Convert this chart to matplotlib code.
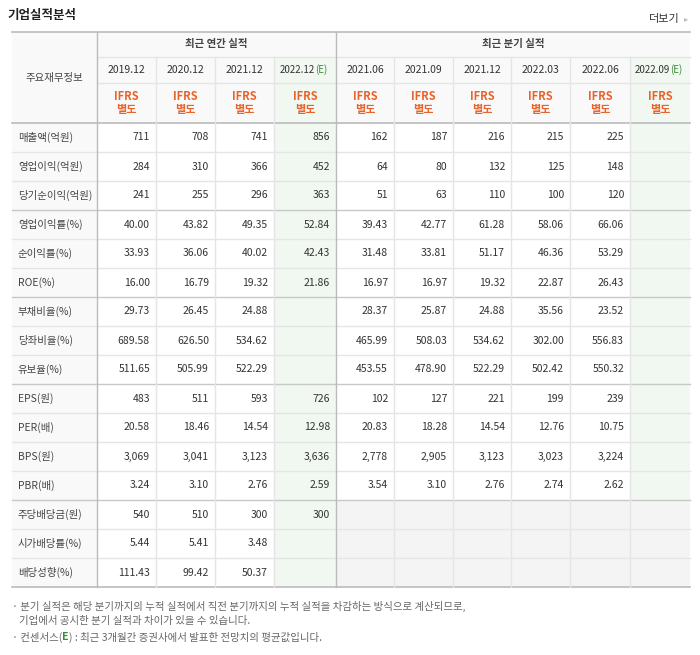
import matplotlib
matplotlib.use("Agg")
import matplotlib.pyplot as plt
from matplotlib.patches import Rectangle
from matplotlib import font_manager

names = {f.name for f in font_manager.fontManager.ttflist}
fam = [n for n in ["Noto Sans CJK KR", "Noto Sans CJK JP", "Noto Sans CJK SC", "Noto Sans CJK TC"] if n in names]
plt.rcParams["font.family"] = fam + ["DejaVu Sans"]

periods = ["2019.12", "2020.12", "2021.12", "2022.12", "2021.06", "2021.09", "2021.12", "2022.03", "2022.06", "2022.09"]
estimate = [False, False, False, True, False, False, False, False, False, True]
row_labels = ["매출액(억원)", "영업이익(억원)", "당기순이익(억원)", "영업이익률(%)", "순이익률(%)", "ROE(%)",
              "부채비율(%)", "당좌비율(%)", "유보율(%)", "EPS(원)", "PER(배)", "BPS(원)", "PBR(배)",
              "주당배당금(원)", "시가배당률(%)", "배당성향(%)"]
values = [
    ["711", "708", "741", "856", "162", "187", "216", "215", "225", ""],
    ["284", "310", "366", "452", "64", "80", "132", "125", "148", ""],
    ["241", "255", "296", "363", "51", "63", "110", "100", "120", ""],
    ["40.00", "43.82", "49.35", "52.84", "39.43", "42.77", "61.28", "58.06", "66.06", ""],
    ["33.93", "36.06", "40.02", "42.43", "31.48", "33.81", "51.17", "46.36", "53.29", ""],
    ["16.00", "16.79", "19.32", "21.86", "16.97", "16.97", "19.32", "22.87", "26.43", ""],
    ["29.73", "26.45", "24.88", "", "28.37", "25.87", "24.88", "35.56", "23.52", ""],
    ["689.58", "626.50", "534.62", "", "465.99", "508.03", "534.62", "302.00", "556.83", ""],
    ["511.65", "505.99", "522.29", "", "453.55", "478.90", "522.29", "502.42", "550.32", ""],
    ["483", "511", "593", "726", "102", "127", "221", "199", "239", ""],
    ["20.58", "18.46", "14.54", "12.98", "20.83", "18.28", "14.54", "12.76", "10.75", ""],
    ["3,069", "3,041", "3,123", "3,636", "2,778", "2,905", "3,123", "3,023", "3,224", ""],
    ["3.24", "3.10", "2.76", "2.59", "3.54", "3.10", "2.76", "2.74", "2.62", ""],
    ["540", "510", "300", "300", "", "", "", "", "", ""],
    ["5.44", "5.41", "3.48", "", "", "", "", "", "", ""],
    ["111.43", "99.42", "50.37", "", "", "", "", "", "", ""],
]
gray_rows = [13, 14, 15]

fig = plt.figure(figsize=(7, 6.55), dpi=100)
ax = fig.add_axes([0, 0, 1, 1])
ax.set_xlim(0, 700); ax.set_ylim(655, 0); ax.axis("off")

xs = [12, 97, 156, 215, 274, 336, 394, 453, 511, 570, 630, 690]
top, h1, h2, h3 = 32, 57, 83, 123
rh = 29
nrows = len(row_labels)
bottom = h3 + rh * nrows
GREEN = "#f1f7f1"; HEAD = "#f9f9f9"; LINE = "#e5e5e5"; DARK = "#c8c8c8"

ax.add_patch(Rectangle((xs[0], top), xs[-1] - xs[0], h3 - top, color=HEAD, lw=0))
ax.add_patch(Rectangle((xs[0], h3), xs[1] - xs[0], bottom - h3, color=HEAD, lw=0))
for j, e in enumerate(estimate):
    if e:
        ax.add_patch(Rectangle((xs[j + 1], h1), xs[j + 2] - xs[j + 1], bottom - h1, color=GREEN, lw=0))
for r in gray_rows:
    y0 = h3 + r * rh
    ax.add_patch(Rectangle((xs[5], y0), xs[-1] - xs[5], rh, color="#f4f4f4", lw=0))

for y in [h1, h2]:
    ax.plot([xs[1], xs[-1]], [y, y], color=LINE, lw=1)
for r in range(1, nrows):
    y = h3 + r * rh
    dark = r in (3, 6, 9, 13)
    ax.plot([xs[0], xs[-1]], [y, y], color=DARK if dark else LINE, lw=1)
for y in (top, h3, bottom):
    ax.plot([xs[0], xs[-1]], [y, y], color="#bbbbbb", lw=1.2)
for x in xs[1:-1]:
    if x in (97, 336):
        ax.plot([x, x], [top, bottom], color="#bbbbbb", lw=1)
    else:
        ax.plot([x, x], [h1, bottom], color=LINE, lw=1)

ax.text(8, 16, "기업실적분석", fontsize=9, fontweight="bold", color="#222", va="center")
ax.text(680, 19, "더보기", fontsize=8, color="#333", va="center", ha="right")
ax.text(686, 19, "▸", fontsize=6, color="#bbb", va="center", ha="center")
ax.text((xs[0] + xs[1]) / 2, (top + h3) / 2, "주요재무정보", fontsize=7.5, color="#444", ha="center", va="center")
ax.text((xs[1] + xs[5]) / 2, (top + h1) / 2, "최근 연간 실적", fontsize=7.5, fontweight="bold", color="#444", ha="center", va="center")
ax.text((xs[5] + xs[-1]) / 2, (top + h1) / 2, "최근 분기 실적", fontsize=7.5, fontweight="bold", color="#444", ha="center", va="center")
for j, p in enumerate(periods):
    cx = (xs[j + 1] + xs[j + 2]) / 2
    if estimate[j]:
        ax.text(cx + 10, (h1 + h2) / 2, "(E)", fontsize=7, color="#3a8a3a", ha="left", va="center")
        ax.text(cx + 10, (h1 + h2) / 2, p, fontsize=7, color="#333", ha="right", va="center")
    else:
        ax.text(cx, (h1 + h2) / 2, p, fontsize=7.5, color="#333", ha="center", va="center")
    ax.text(cx, h2 + 13, "IFRS", fontsize=8, fontweight="bold", color="#e8642c", ha="center", va="center")
    ax.text(cx, h2 + 27, "별도", fontsize=8, fontweight="bold", color="#e8642c", ha="center", va="center")

for r, (lab, vals) in enumerate(zip(row_labels, values)):
    cy = h3 + r * rh + rh / 2
    ax.text(xs[0] + 6, cy, lab, fontsize=7.5, color="#444", ha="left", va="center")
    for j, v in enumerate(vals):
        if v:
            ax.text(xs[j + 2] - 6, cy, v, fontsize=7.5, color="#333", ha="right", va="center")

ax.text(12, 606, "· 분기 실적은 해당 분기까지의 누적 실적에서 직전 분기까지의 누적 실적을 차감하는 방식으로 계산되므로,", fontsize=7.5, color="#666", va="center")
ax.text(19, 621, "기업에서 공시한 분기 실적과 차이가 있을 수 있습니다.", fontsize=7.5, color="#666", va="center")
t = ax.text(12, 637, "· 컨센서스(", fontsize=7.5, color="#666", va="center")
fig.canvas.draw()
bb = t.get_window_extent().transformed(ax.transData.inverted())
x1 = max(bb.x0, bb.x1)
t2 = ax.text(x1, 637, "E", fontsize=7.5, color="#3a8a3a", fontweight="bold", va="center")
fig.canvas.draw()
bb2 = t2.get_window_extent().transformed(ax.transData.inverted())
ax.text(max(bb2.x0, bb2.x1), 637, ") : 최근 3개월간 증권사에서 발표한 전망치의 평균값입니다.", fontsize=7.5, color="#666", va="center")

fig.savefig("out.png", dpi=100, facecolor="white")
